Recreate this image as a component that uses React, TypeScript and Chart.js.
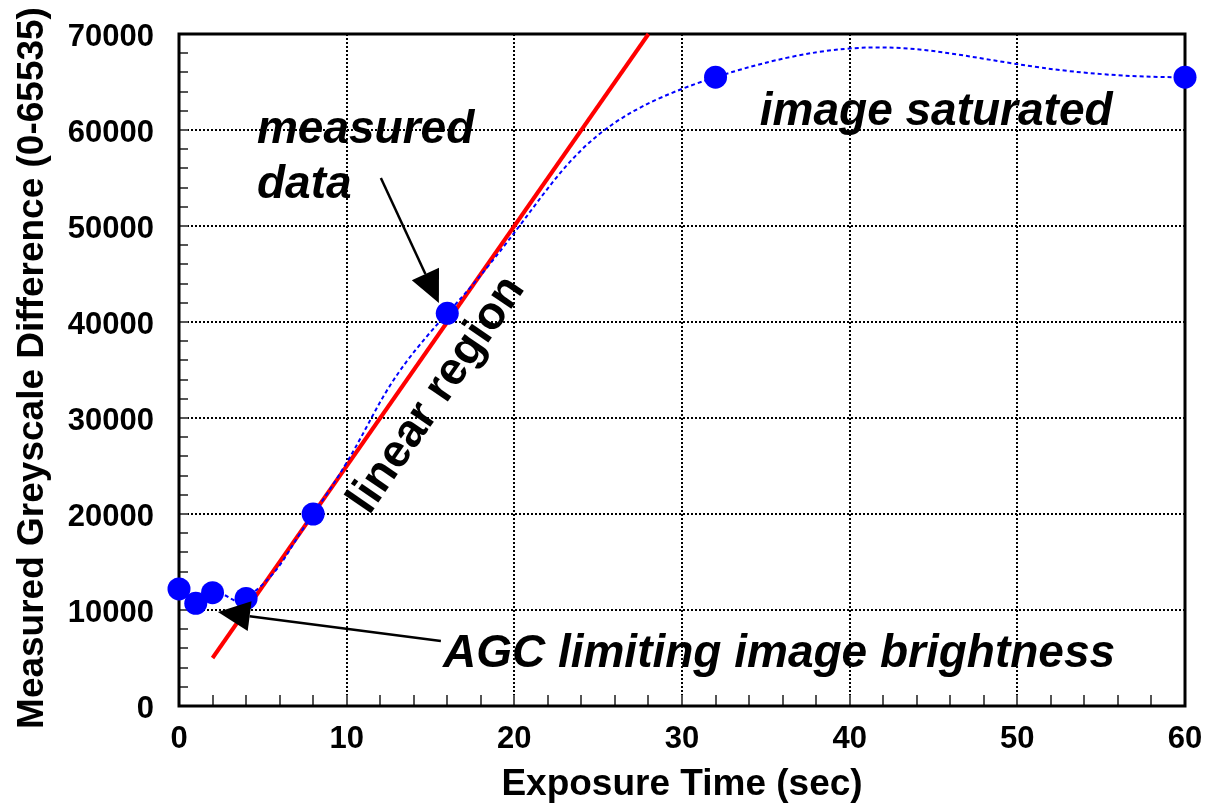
import React, { useEffect, useRef } from "react";
import { Chart, registerables } from "chart.js";

Chart.register(...registerables);

// ---- data ----
const exposureTimes = [0, 1, 2, 4, 8, 16, 32, 60];
const greyscaleValues = [12200, 10700, 11800, 11200, 20000, 40900, 65500, 65500];
const fitTimes = [2, 28];
const fitValues = [5000, 70000];
const xTickValues = [0, 10, 20, 30, 40, 50, 60];
const yTickValues = [0, 10000, 20000, 30000, 40000, 50000, 60000, 70000];
const xMinorStep = 2;
const yMinorStep = 2000;

const xTitle = "Exposure Time (sec)";
const yTitle = "Measured Greyscale Difference (0-65535)";

const FONT = '"Liberation Sans", Arial, sans-serif';

const decorPlugin = {
  id: "decor",
  beforeDatasetsDraw(chart: any) {
    const { ctx, chartArea: a, scales } = chart;
    const x = scales.x;
    const y = scales.y;
    ctx.save();
    // dotted grid
    ctx.strokeStyle = "#000";
    ctx.lineWidth = 2;
    ctx.setLineDash([2, 2]);
    xTickValues.forEach((v) => {
      if (v === x.min || v === x.max) return;
      const px = Math.round(x.getPixelForValue(v));
      ctx.beginPath();
      ctx.moveTo(px, a.top);
      ctx.lineTo(px, a.bottom);
      ctx.stroke();
    });
    yTickValues.forEach((v) => {
      if (v === y.min || v === y.max) return;
      const py = Math.round(y.getPixelForValue(v));
      ctx.beginPath();
      ctx.moveTo(a.left, py);
      ctx.lineTo(a.right, py);
      ctx.stroke();
    });
    ctx.setLineDash([]);
    // minor ticks
    ctx.strokeStyle = "#555";
    ctx.lineWidth = 2;
    for (let v = x.min; v <= x.max; v += xMinorStep) {
      const px = Math.round(x.getPixelForValue(v));
      ctx.beginPath();
      ctx.moveTo(px, a.bottom);
      ctx.lineTo(px, a.bottom - 11);
      ctx.stroke();
    }
    for (let v = y.min; v <= y.max; v += yMinorStep) {
      const py = Math.round(y.getPixelForValue(v));
      ctx.beginPath();
      ctx.moveTo(a.left, py);
      ctx.lineTo(a.left + 9, py);
      ctx.stroke();
    }
    // frame
    ctx.strokeStyle = "#000";
    ctx.lineWidth = 3;
    ctx.strokeRect(a.left, a.top, a.right - a.left, a.bottom - a.top);

    // tick labels
    ctx.fillStyle = "#000";
    ctx.font = `bold 31px ${FONT}`;
    ctx.textAlign = "right";
    ctx.textBaseline = "alphabetic";
    yTickValues.forEach((v) => {
      const py = y.getPixelForValue(v);
      ctx.fillText(String(v), a.left - 25, py + 12);
    });
    ctx.textAlign = "center";
    xTickValues.forEach((v) => {
      const px = x.getPixelForValue(v);
      ctx.fillText(String(v), px, a.bottom + 42);
    });
    // axis titles
    ctx.font = `bold 37px ${FONT}`;
    ctx.fillText(xTitle, (a.left + a.right) / 2, a.bottom + 89);
    ctx.save();
    ctx.translate(a.left - 136, (a.top + a.bottom) / 2 - 2);
    ctx.rotate(-Math.PI / 2);
    ctx.font = `bold 37px ${FONT}`;
    ctx.fillText(yTitle, 0, 0);
    ctx.restore();
    ctx.restore();
  },
  afterDatasetsDraw(chart: any) {
    const { ctx, scales } = chart;
    const x = scales.x;
    const y = scales.y;
    const P = (vx: number, vy: number) => [x.getPixelForValue(vx), y.getPixelForValue(vy)];
    ctx.save();
    ctx.fillStyle = "#000";
    ctx.font = `italic bold 46px ${FONT}`;
    ctx.textAlign = "left";
    ctx.textBaseline = "alphabetic";
    let p = P(4.65, 58650);
    ctx.fillText("measured", p[0], p[1]);
    p = P(4.65, 52920);
    ctx.fillText("data", p[0], p[1]);
    p = P(34.64, 60520);
    ctx.fillText("image saturated", p[0], p[1]);
    p = P(15.74, 4060);
    ctx.fillText("AGC limiting image brightness", p[0], p[1]);

    // rotated label
    p = P(15.38, 32400);
    ctx.save();
    ctx.translate(p[0], p[1]);
    ctx.rotate((-55.5 * Math.PI) / 180);
    ctx.font = `bold 46px ${FONT}`;
    ctx.textAlign = "center";
    ctx.textBaseline = "middle";
    ctx.fillText("linear region", 0, 0);
    ctx.restore();

    const arrow = (s: number[], t: number[]) => {
      const dx = t[0] - s[0];
      const dy = t[1] - s[1];
      const len = Math.hypot(dx, dy);
      const ux = dx / len;
      const uy = dy / len;
      const headLen = 32;
      const headW = 15;
      const bx = t[0] - ux * headLen;
      const by = t[1] - uy * headLen;
      ctx.strokeStyle = "#000";
      ctx.lineWidth = 2.5;
      ctx.beginPath();
      ctx.moveTo(s[0], s[1]);
      ctx.lineTo(bx, by);
      ctx.stroke();
      ctx.beginPath();
      ctx.moveTo(t[0], t[1]);
      ctx.lineTo(bx - uy * headW, by + ux * headW);
      ctx.lineTo(bx + uy * headW, by - ux * headW);
      ctx.closePath();
      ctx.fill();
    };
    arrow(P(12.04, 55000), P(15.5, 41980));
    arrow(P(15.62, 6770), P(2.32, 9790));
    ctx.restore();
  },
};

export default function App() {
  const ref = useRef<HTMLCanvasElement | null>(null);
  useEffect(() => {
    if (!ref.current) return;
    const chart = new Chart(ref.current, {
      type: "scatter",
      data: {
        datasets: [
          {
            label: "measured",
            data: exposureTimes.map((t, i) => ({ x: t, y: greyscaleValues[i] })),
            showLine: true,
            borderColor: "#0000ff",
            borderWidth: 2,
            borderDash: [4, 3],
            tension: 0.5,
            pointRadius: 11.5,
            pointHoverRadius: 11.5,
            pointBackgroundColor: "#0000ff",
            pointBorderWidth: 0,
            clip: false,
            order: 0,
          } as any,
          {
            label: "fit",
            data: fitTimes.map((t, i) => ({ x: t, y: fitValues[i] })),
            showLine: true,
            borderColor: "#ff0000",
            borderWidth: 4,
            pointRadius: 0,
            clip: false,
            order: 1,
          } as any,
        ],
      },
      options: {
        animation: false,
        responsive: false,
        devicePixelRatio: 1,
        layout: { padding: { left: 179, top: 34, right: 29, bottom: 97 } },
        elements: { line: { capBezierPoints: false } },
        plugins: { legend: { display: false }, tooltip: { enabled: false } },
        scales: {
          x: { type: "linear", min: 0, max: 60, display: false },
          y: { type: "linear", min: 0, max: 70000, display: false },
        },
      },
      plugins: [decorPlugin],
    });
    return () => chart.destroy();
  }, []);
  return (
    <div style={{ position: "fixed", left: 0, top: 0, width: 1214, height: 803, background: "#fff" }}>
      <canvas ref={ref} width={1214} height={803} style={{ width: 1214, height: 803, display: "block" }} />
    </div>
  );
}
